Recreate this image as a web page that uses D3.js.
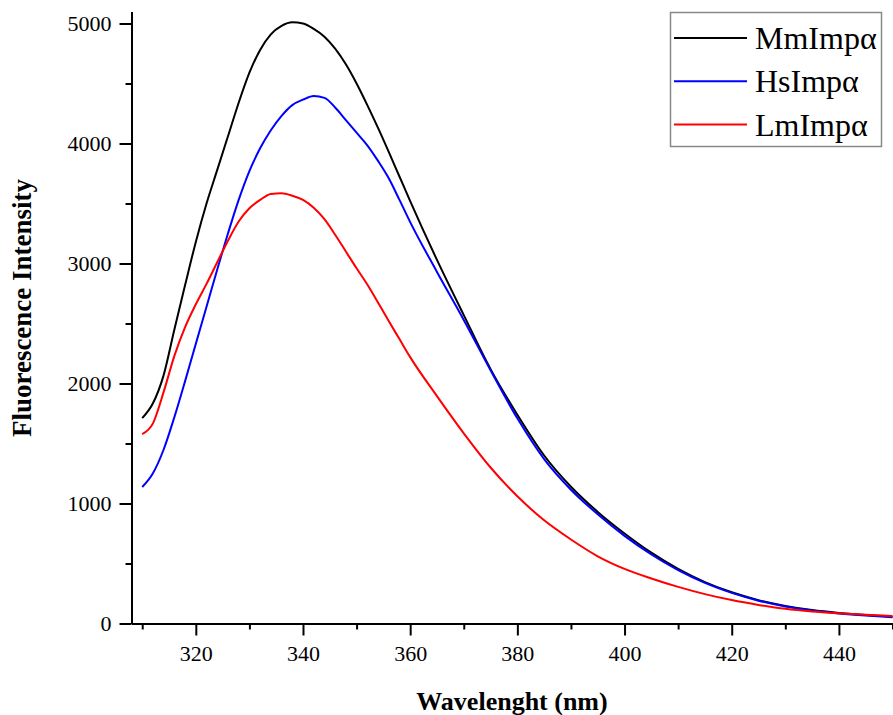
<!DOCTYPE html>
<html>
<head>
<meta charset="utf-8">
<script src="https://cdn.jsdelivr.net/npm/d3@7"></script>
<style>
  body { margin: 0; background: #fff; }
  svg { display: block; }
  svg text { font-family: "Liberation Serif", "Times New Roman", serif; }
</style>
</head>
<body>
<svg width="893" height="715"></svg>
<script>
// wavelengths (nm)
const wavelength = [310,312,314,316,318,320,322,324,326,328,330,332,334,336,338,340,342,344,346,348,350,
                    352,354,356,358,360,365,370,375,380,385,390,395,400,405,410,415,420,425,430,435,440,445,450];

// fluorescence intensity per sample
const mmImp = [1712,1835,2070,2450,2820,3180,3500,3780,4060,4340,4590,4780,4910,4980,5010,5000,4955,4890,4790,4660,4500,
               4320,4130,3930,3725,3520,3030,2570,2120,1740,1400,1140,930,750,590,455,345,260,195,147,112,88,70,57];
const hsImp = [1137,1252,1450,1720,2020,2330,2640,2950,3250,3530,3770,3960,4110,4230,4320,4365,4395,4380,4300,4195,4090,
               3985,3855,3710,3530,3345,2930,2530,2110,1710,1370,1115,910,730,575,445,338,255,190,142,108,84,66,52];
const lmImp = [1579,1668,1930,2230,2470,2660,2830,3010,3190,3350,3460,3530,3580,3585,3565,3530,3465,3370,3240,3100,2960,
               2825,2675,2520,2370,2220,1895,1585,1300,1060,860,700,560,455,375,305,245,195,155,122,100,85,73,63];

const seriesNames  = ["MmImp\u03b1", "HsImp\u03b1", "LmImp\u03b1"];
const seriesColors = ["#000000", "#0000ff", "#ff0000"];
const seriesValues = [mmImp, hsImp, lmImp];

const xTicks = [320, 340, 360, 380, 400, 420, 440];
const xMinor = [310, 330, 350, 370, 390, 410, 430, 450];
const yTicks = [0, 1000, 2000, 3000, 4000, 5000];
const yMinor = [500, 1500, 2500, 3500, 4500];

const svg = d3.select("svg");

// scales
const x = d3.scaleLinear().domain([308, 450]).range([131.5, 892.5]);
const y = d3.scaleLinear().domain([0, 5100]).range([623.5, 11.5]);

// --- axes ---
const xAxisG = svg.append("g").attr("transform", `translate(0,${y(0)})`);
xAxisG.call(d3.axisBottom(x).tickValues(xTicks).tickFormat(d3.format("d"))
  .tickSize(12).tickSizeOuter(0).tickPadding(10));
const xMinorG = svg.append("g").attr("transform", `translate(0,${y(0)})`);
xMinorG.call(d3.axisBottom(x).tickValues(xMinor).tickSize(6).tickFormat("").tickSizeOuter(0));

const yAxisG = svg.append("g").attr("transform", `translate(${x(308)},0)`);
yAxisG.call(d3.axisLeft(y).tickValues(yTicks).tickFormat(d3.format("d"))
  .tickSize(12).tickSizeOuter(0).tickPadding(8));
const yMinorG = svg.append("g").attr("transform", `translate(${x(308)},0)`);
yMinorG.call(d3.axisLeft(y).tickValues(yMinor).tickSize(6).tickFormat("").tickSizeOuter(0));

svg.selectAll("g").attr("font-family", null);
svg.selectAll(".domain").attr("stroke", "#000").attr("stroke-width", 2);
svg.selectAll(".tick line").attr("stroke", "#000").attr("stroke-width", 2);
svg.selectAll(".tick text")
   .style("font-family", "'Liberation Serif', 'Times New Roman', serif")
   .style("font-size", "22px")
   .attr("fill", "#000");
yAxisG.selectAll(".tick text").attr("dy", "0.34em");

// axis titles
svg.append("text")
   .attr("x", (x(308) + x(450)) / 2)
   .attr("y", 710)
   .attr("text-anchor", "middle")
   .attr("font-size", 26)
   .attr("font-weight", "bold")
   .text("Wavelenght (nm)");

svg.append("text")
   .attr("transform", "translate(31,308) rotate(-90)")
   .attr("text-anchor", "middle")
   .attr("font-size", 27)
   .attr("font-weight", "bold")
   .text("Fluorescence Intensity");

// --- lines ---
const line = d3.line()
  .x((d, i) => x(wavelength[i]))
  .y(d => y(d))
  .curve(d3.curveMonotoneX);

seriesValues.forEach((vals, k) => {
  svg.append("path")
     .datum(vals)
     .attr("fill", "none")
     .attr("stroke", seriesColors[k])
     .attr("stroke-width", 2)
     .attr("d", line);
});

// --- legend ---
const lg = svg.append("g");
lg.append("rect")
  .attr("x", 670.5).attr("y", 12.5)
  .attr("width", 211).attr("height", 134)
  .attr("fill", "#fff")
  .attr("stroke", "#888")
  .attr("stroke-width", 1.5);

seriesNames.forEach((name, k) => {
  const yy = 38 + k * 43.3;
  lg.append("line")
    .attr("x1", 674).attr("x2", 747)
    .attr("y1", yy).attr("y2", yy)
    .attr("stroke", seriesColors[k])
    .attr("stroke-width", 2);
  lg.append("text")
    .attr("x", 755)
    .attr("y", yy + 11)
    .attr("font-size", 32)
    .text(name);
});
</script>
</body>
</html>
